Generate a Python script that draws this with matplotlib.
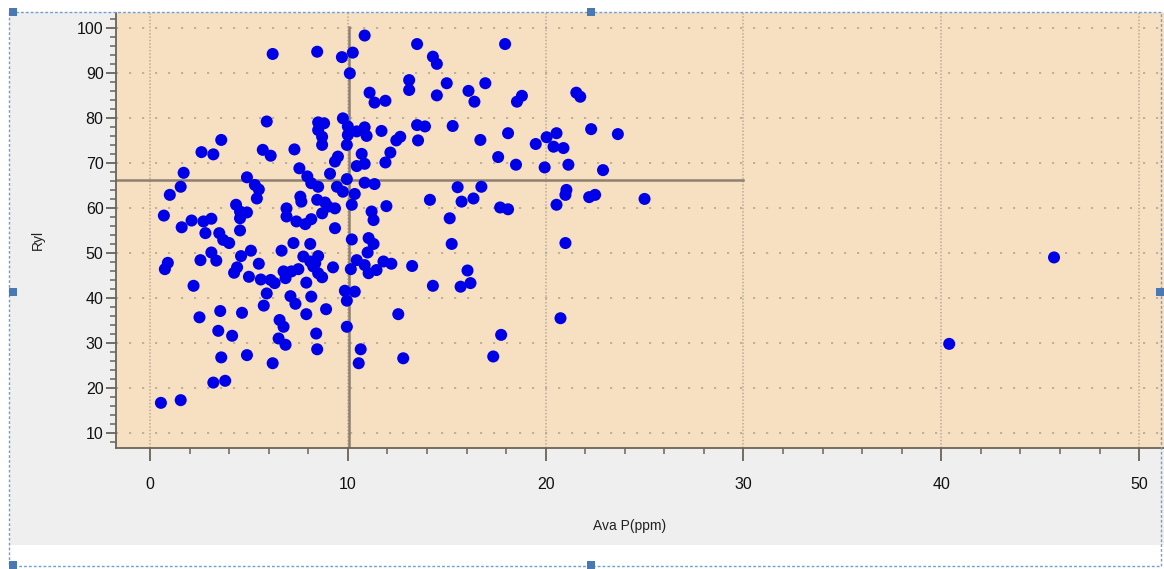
import matplotlib
matplotlib.use("Agg")
import matplotlib.pyplot as plt
from matplotlib.patches import Rectangle
from matplotlib.ticker import MultipleLocator

# ───────────── data ───────────── #
ava_p = [
    6.2, 5.9, 3.6, 2.6, 3.2, 5.7, 6.1, 1.7, 1.55, 1.0, 0.7, 4.9, 5.3, 5.5, 5.4,
    4.35, 4.55, 4.9, 4.55, 6.9, 6.9, 1.6, 2.1, 2.7, 3.1, 2.8, 3.5, 4.55,
    3.7, 4.0, 6.65, 5.1, 4.6, 3.1, 3.35, 2.55, 0.9, 0.75, 5.5, 4.4, 4.25, 5.0,
    5.6, 6.1, 6.3, 6.75, 6.85, 2.2, 5.9, 5.75, 2.5, 3.55, 4.65, 6.55, 6.75,
    3.45, 4.15, 6.5, 6.85, 3.6, 4.9, 6.2, 3.2, 3.8, 0.55, 1.55,
    10.85, 13.5, 8.45, 9.7, 10.25, 10.1, 13.1, 13.1, 11.1, 11.35, 11.9, 9.75,
    8.5, 8.8, 8.5, 8.7, 8.7, 10.0, 10.0, 10.45, 10.85, 10.95, 11.7, 13.5, 13.9,
    12.65, 12.45, 13.55, 9.95, 7.3, 9.5, 9.35, 10.7, 10.85, 10.45, 12.15, 11.9,
    7.55, 9.1, 7.95, 8.15, 8.5, 9.95, 9.45, 9.75, 10.35, 10.85, 11.35, 7.6,
    7.65, 8.45, 8.85, 9.0, 9.35, 10.2, 11.95, 11.2, 11.3, 7.4, 7.85, 8.15, 8.7,
    9.35,
    10.2, 11.05, 11.3, 11.0, 7.25, 8.1, 7.75, 8.5, 8.35, 9.25, 10.15, 10.45,
    10.85, 11.05, 11.45, 11.8, 12.2, 13.25, 7.15, 7.5, 8.5, 7.9, 9.85, 10.35,
    9.95, 7.1, 7.35, 8.15, 8.9, 7.9, 12.55, 9.95, 8.4, 8.45, 10.65, 10.55,
    12.8, 8.7, 8.25, 8.1,
    17.95, 14.3, 14.5, 15.0, 16.95, 14.5, 16.1, 16.4, 18.8, 18.55, 15.3, 16.7,
    18.1, 17.6, 18.5, 19.5, 20.05, 20.55, 20.4, 20.9, 19.95, 21.15, 15.55,
    16.75, 14.15, 15.75, 16.35, 17.7, 18.1, 15.15, 20.55, 21.0, 21.05,
    15.25, 21.0, 16.05, 14.3, 15.7, 16.2, 20.75, 17.75, 17.35,
    21.55, 21.75, 22.3, 23.65, 22.9, 22.2, 22.5, 25.0,
    40.4, 45.7,
]
ryl = [
    94.2, 79.2, 75.1, 72.4, 71.9, 72.9, 71.6, 67.8, 64.7, 62.9, 58.3, 66.8,
    65.1, 64.1, 62.1, 60.7, 59.2, 59.0, 57.7, 59.9, 58.1, 55.7, 57.2, 57.0,
    57.6, 54.4, 54.4, 55.0,
    52.9, 52.2, 50.5, 50.5, 49.3, 50.1, 48.3, 48.4, 47.8, 46.4, 47.6, 46.8,
    45.6, 44.7, 44.1, 44.0, 43.3, 45.9, 44.4, 42.7, 41.0, 38.3, 35.7, 37.1,
    36.7, 35.1, 33.6, 32.7, 31.6, 31.0, 29.6, 26.8, 27.3, 25.5, 21.2, 21.6,
    16.7, 17.3,
    98.3, 96.4, 94.7, 93.5, 94.5, 89.9, 88.4, 86.2, 85.6, 83.4, 83.8, 79.9,
    79.0, 78.8, 77.3, 75.8, 74.0, 78.1, 76.2, 77.0, 77.9, 76.0, 77.1, 78.4,
    78.1, 75.8, 75.0, 75.0, 74.0, 73.0, 71.4, 70.3, 72.0, 69.8, 69.3, 72.3,
    70.1, 68.8, 67.6, 67.0, 65.5, 64.7, 66.4, 64.7, 63.6, 63.1, 65.6, 65.3,
    62.5, 61.4, 61.8, 61.2, 60.3, 59.9, 60.7, 60.4, 59.2, 57.3, 57.0, 56.4,
    57.5, 58.8, 55.5,
    53.0, 53.3, 52.0, 50.1, 52.2, 52.0, 49.2, 49.3, 47.7, 46.8, 46.4, 48.4,
    47.3, 45.5, 46.2, 48.1, 47.6, 47.1, 45.9, 46.4, 45.5, 43.4, 41.6, 41.4,
    39.4, 40.4, 38.7, 40.3, 37.5, 36.4, 36.4, 33.6, 32.1, 28.6, 28.6, 25.5,
    26.6, 44.6, 47.0, 48.1,
    96.4, 93.6, 92.0, 87.7, 87.7, 85.0, 86.0, 83.6, 84.9, 83.6, 78.2, 75.1,
    76.6, 71.3, 69.6, 74.2, 75.7, 76.6, 73.6, 73.3, 69.0, 69.6, 64.6, 64.7,
    61.8, 61.4, 62.1, 60.1, 59.7, 57.7, 60.7, 62.9, 64.0,
    52.0, 52.2, 46.1, 42.7, 42.5, 43.3, 35.5, 31.8, 27.0,
    85.6, 84.7, 77.5, 76.4, 68.4, 62.4, 62.9, 62.0,
    29.8, 49.0,
]

# reference lines (means drawn on the chart)
ref_x = 10.05
ref_y = 66.2
ref_x_top = 100.2
ref_y_right = 30

W, H = 1164, 569
COR_FUNDO = "#efefef"
COR_AREA = "#f7dfc2"
COR_REF = "#8e7f70"
COR_GRADE = "#b9ab98"
COR_PONTO = "#0000e8"
COR_MOLDURA = "#6c9fd6"
COR_EIXO = "#6b6359"

plt.rcParams["font.family"] = ["Liberation Sans", "DejaVu Sans"]

fig = plt.figure(figsize=(W / 100, H / 100), dpi=100)
fig.patch.set_facecolor("white")

# light gray panel behind the plot
fig.patches.append(Rectangle((10 / W, 1 - 545 / H), 1 - 10 / W, (545 - 12) / H,
                             transform=fig.transFigure, facecolor=COR_FUNDO,
                             edgecolor="none", zorder=-1))
# dashed selection frame + handles
fig.patches.append(Rectangle((9 / W, 1 - 566 / H), (1161 - 9) / W, (566 - 12) / H,
                             transform=fig.transFigure, facecolor="none",
                             edgecolor=COR_MOLDURA, linestyle=(0, (2, 1.5)),
                             linewidth=1, zorder=5))
for hx, hy in [(13, 12), (591, 12), (13, 292), (1160, 292), (13, 565), (591, 565)]:
    fig.patches.append(Rectangle(((hx - 4) / W, 1 - (hy + 4) / H), 8 / W, 8 / H,
                                 transform=fig.transFigure, facecolor="#4a78b2",
                                 edgecolor="none", zorder=6))

ax = fig.add_axes([116 / W, 1 - 448 / H, (1164 - 116) / W, (448 - 13) / H])
ax.set_zorder(1)
ax.set_facecolor(COR_AREA)
ax.set_xlim(-1.72, 51.26)
ax.set_ylim(6.67, 103.3)

ax.xaxis.set_major_locator(MultipleLocator(10))
ax.xaxis.set_minor_locator(MultipleLocator(2))
ax.yaxis.set_major_locator(MultipleLocator(10))
ax.yaxis.set_minor_locator(MultipleLocator(2))
ax.set_yticks(range(10, 101, 10))

ax.xaxis.grid(True, which="major", color=COR_GRADE, linestyle=(0, (1, 1.2)), linewidth=1.1)
ax.yaxis.grid(True, which="major", color=COR_GRADE, linestyle=(0, (1.2, 6)), linewidth=1.3)
ax.set_axisbelow(True)

ax.plot([ref_x, ref_x], [ax.get_ylim()[0], ref_x_top], color=COR_REF, linewidth=1.8, zorder=2)
ax.plot([ax.get_xlim()[0], ref_y_right], [ref_y, ref_y], color=COR_REF, linewidth=1.8, zorder=2)

ax.scatter(ava_p, ryl, s=75, color=COR_PONTO, edgecolors="none", zorder=3)

for lado in ["top", "right"]:
    ax.spines[lado].set_visible(False)
for lado in ["left", "bottom"]:
    ax.spines[lado].set_color(COR_EIXO)
    ax.spines[lado].set_linewidth(1.3)

ax.tick_params(axis="x", which="major", length=9, width=1.3, color=COR_EIXO,
               labelsize=11.5, pad=12, labelcolor="#111111")
ax.tick_params(axis="y", which="major", length=7, width=1.3, color=COR_EIXO,
               labelsize=11.5, pad=2, labelcolor="#111111")
ax.tick_params(which="minor", length=4, width=1.1, color=COR_EIXO)

ax.set_xlabel("Ava P(ppm)", fontsize=10, color="#222222")
ax.set_ylabel("Ryl", fontsize=10, color="#222222")
ax.xaxis.set_label_coords((630 - 116) / (1164 - 116), (448 - 519) / (448 - 13))
ax.yaxis.set_label_coords((45 - 116) / (1164 - 116), (448 - 240) / (448 - 13))

fig.savefig("out.png", dpi=100, facecolor=fig.get_facecolor())
